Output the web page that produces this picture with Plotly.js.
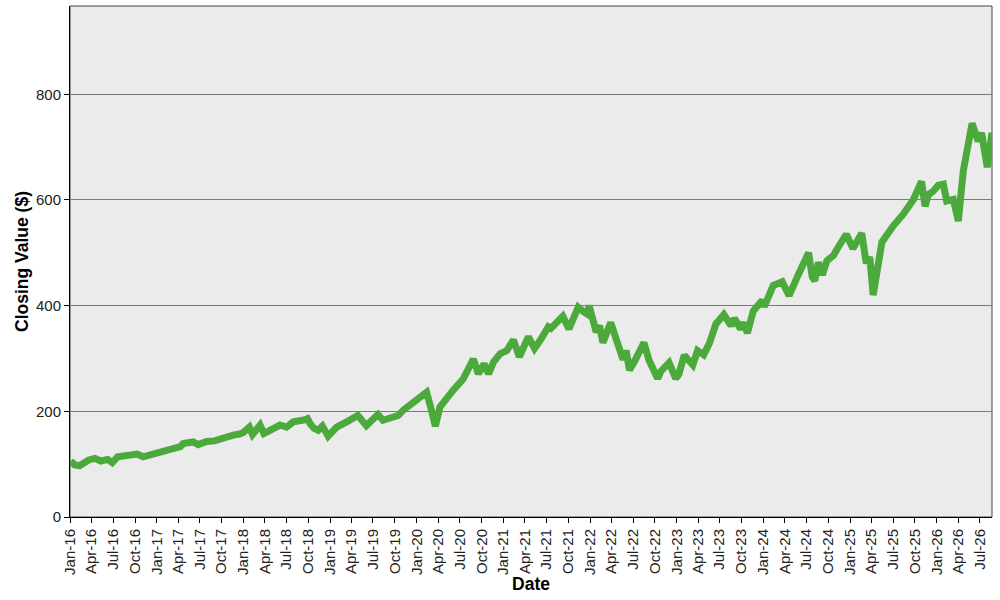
<!DOCTYPE html>
<html>
<head>
<meta charset="utf-8">
<script src="https://cdn.plot.ly/plotly-3.0.1.min.js"></script>
<style>html,body{margin:0;padding:0;background:#fff;}#chart{width:1000px;height:600px;}</style>
</head>
<body>
<div id="chart"></div>
<script>
const dates = [
"2016-01-04","2016-01-20","2016-02-10","2016-03-01","2016-03-20","2016-04-15","2016-05-10","2016-06-08","2016-06-27","2016-07-20",
"2016-08-15","2016-09-10","2016-10-10","2016-11-04","2016-12-10","2017-01-10","2017-02-25","2017-04-10","2017-04-22","2017-06-03",
"2017-06-24","2017-07-30","2017-09-01","2017-09-24","2017-10-25","2017-11-19","2017-12-15","2018-01-01","2018-01-26","2018-02-08",
"2018-03-12","2018-03-28","2018-04-23","2018-06-04","2018-07-01","2018-07-30","2018-09-17","2018-09-28","2018-10-10","2018-10-25",
"2018-11-12","2018-11-30","2018-12-24","2019-01-29","2019-03-12","2019-04-28","2019-06-03","2019-07-22","2019-08-12","2019-09-23",
"2019-10-15","2019-11-05","2019-12-17","2020-01-20","2020-02-12","2020-02-28","2020-03-20","2020-04-08","2020-05-05","2020-06-03",
"2020-07-15","2020-08-27","2020-09-17","2020-10-12","2020-10-30","2020-11-20","2020-12-18","2021-01-15","2021-02-12","2021-03-09",
"2021-04-16","2021-05-12","2021-06-10","2021-07-09","2021-07-20","2021-08-27","2021-09-08","2021-10-04","2021-11-12","2021-11-30",
"2021-12-20","2021-12-28","2022-01-27","2022-02-10","2022-02-24","2022-03-29","2022-04-28","2022-05-20","2022-06-02","2022-06-16",
"2022-07-09","2022-08-16","2022-09-06","2022-09-30","2022-10-13","2022-10-27","2022-11-30","2022-12-28","2023-01-10","2023-02-02",
"2023-03-10","2023-03-30","2023-04-25","2023-05-20","2023-06-15","2023-07-19","2023-08-18","2023-09-01","2023-09-27","2023-10-11",
"2023-10-26","2023-11-20","2023-12-28","2024-01-05","2024-02-12","2024-03-21","2024-04-19","2024-05-28","2024-07-10","2024-07-25",
"2024-08-05","2024-08-20","2024-09-06","2024-09-25","2024-10-23","2024-11-11","2024-12-16","2025-01-13","2025-02-19","2025-03-10",
"2025-03-25","2025-04-08","2025-04-23","2025-05-15","2025-07-02","2025-08-13","2025-09-25","2025-10-29","2025-11-13","2025-11-27",
"2025-12-18","2026-01-08","2026-01-29","2026-02-12","2026-03-12","2026-04-02","2026-04-23","2026-05-14","2026-05-30","2026-06-25",
"2026-07-09","2026-08-02","2026-08-22"
];
const closingValues = [
106,99,97,103,108,111,106,109,103,114,
116,118,119,114,119,121,130,133,139,142,
137,143,144,148,153,155,157,160,170,156,
174,158,164,174,170,180,184,186,176,168,
164,172,153,170,180,192,173,194,183,188,
192,202,215,226,236,210,172,208,225,240,
261,299,271,290,271,293,309,315,335,303,
341,319,338,360,357,378,380,356,397,390,
384,400,350,362,330,368,323,298,315,278,
296,330,297,270,262,276,292,262,270,306,
288,315,307,330,365,383,362,376,356,368,
348,390,410,398,438,445,419,459,500,455,
447,482,458,485,495,510,535,508,537,480,
492,420,460,520,551,573,601,635,588,610,
617,628,630,598,601,560,655,711,745,711,
727,662,727
];
const yTickVals = [0,200,400,600,800];
const xRange = ["2016-01-01","2026-08-22"];
const yRange = [0,967];

const trace = {
  x: dates, y: closingValues, type: "scatter", mode: "lines",
  line: {color: "#4caa3c", width: 7},
  hoverinfo: "skip"
};
const layout = {
  width: 1000, height: 600,
  margin: {l: 70, r: 8, t: 6, b: 83},
  paper_bgcolor: "#ffffff", plot_bgcolor: "#ebebeb",
  showlegend: false,
  font: {family: "Liberation Sans, Arial, sans-serif", color: "#222"},
  xaxis: {
    type: "date", range: xRange, tick0: "2016-01-01", dtick: "M3",
    tickformat: "%b-%y", tickangle: -90, tickfont: {size: 15, color: "#222"},
    ticks: "outside", ticklen: 5, tickcolor: "#000",
    showgrid: false, zeroline: false, showline: true, linecolor: "#000", linewidth: 1,
    title: {text: "Date", font: {size: 17.5, color: "#000", weight: "bold"}, standoff: 1}
  },
  yaxis: {
    range: yRange, tickvals: yTickVals, tickfont: {size: 15, color: "#222"},
    ticks: "outside", ticklen: 5, tickcolor: "#000",
    showgrid: true, gridcolor: "#7a7a7a", gridwidth: 1, zeroline: false,
    showline: true, linecolor: "#000", linewidth: 1,
    title: {text: "Closing Value ($)", font: {size: 17.5, color: "#000", weight: "bold"}, standoff: 2}
  },
  shapes: [{type: "rect", xref: "paper", yref: "paper", x0: 0, x1: 1, y0: 0, y1: 1,
    line: {color: "#444", width: 1}, layer: "below"}]
};
Plotly.newPlot("chart", [trace], layout, {displayModeBar: false, staticPlot: true});
</script>
</body>
</html>
